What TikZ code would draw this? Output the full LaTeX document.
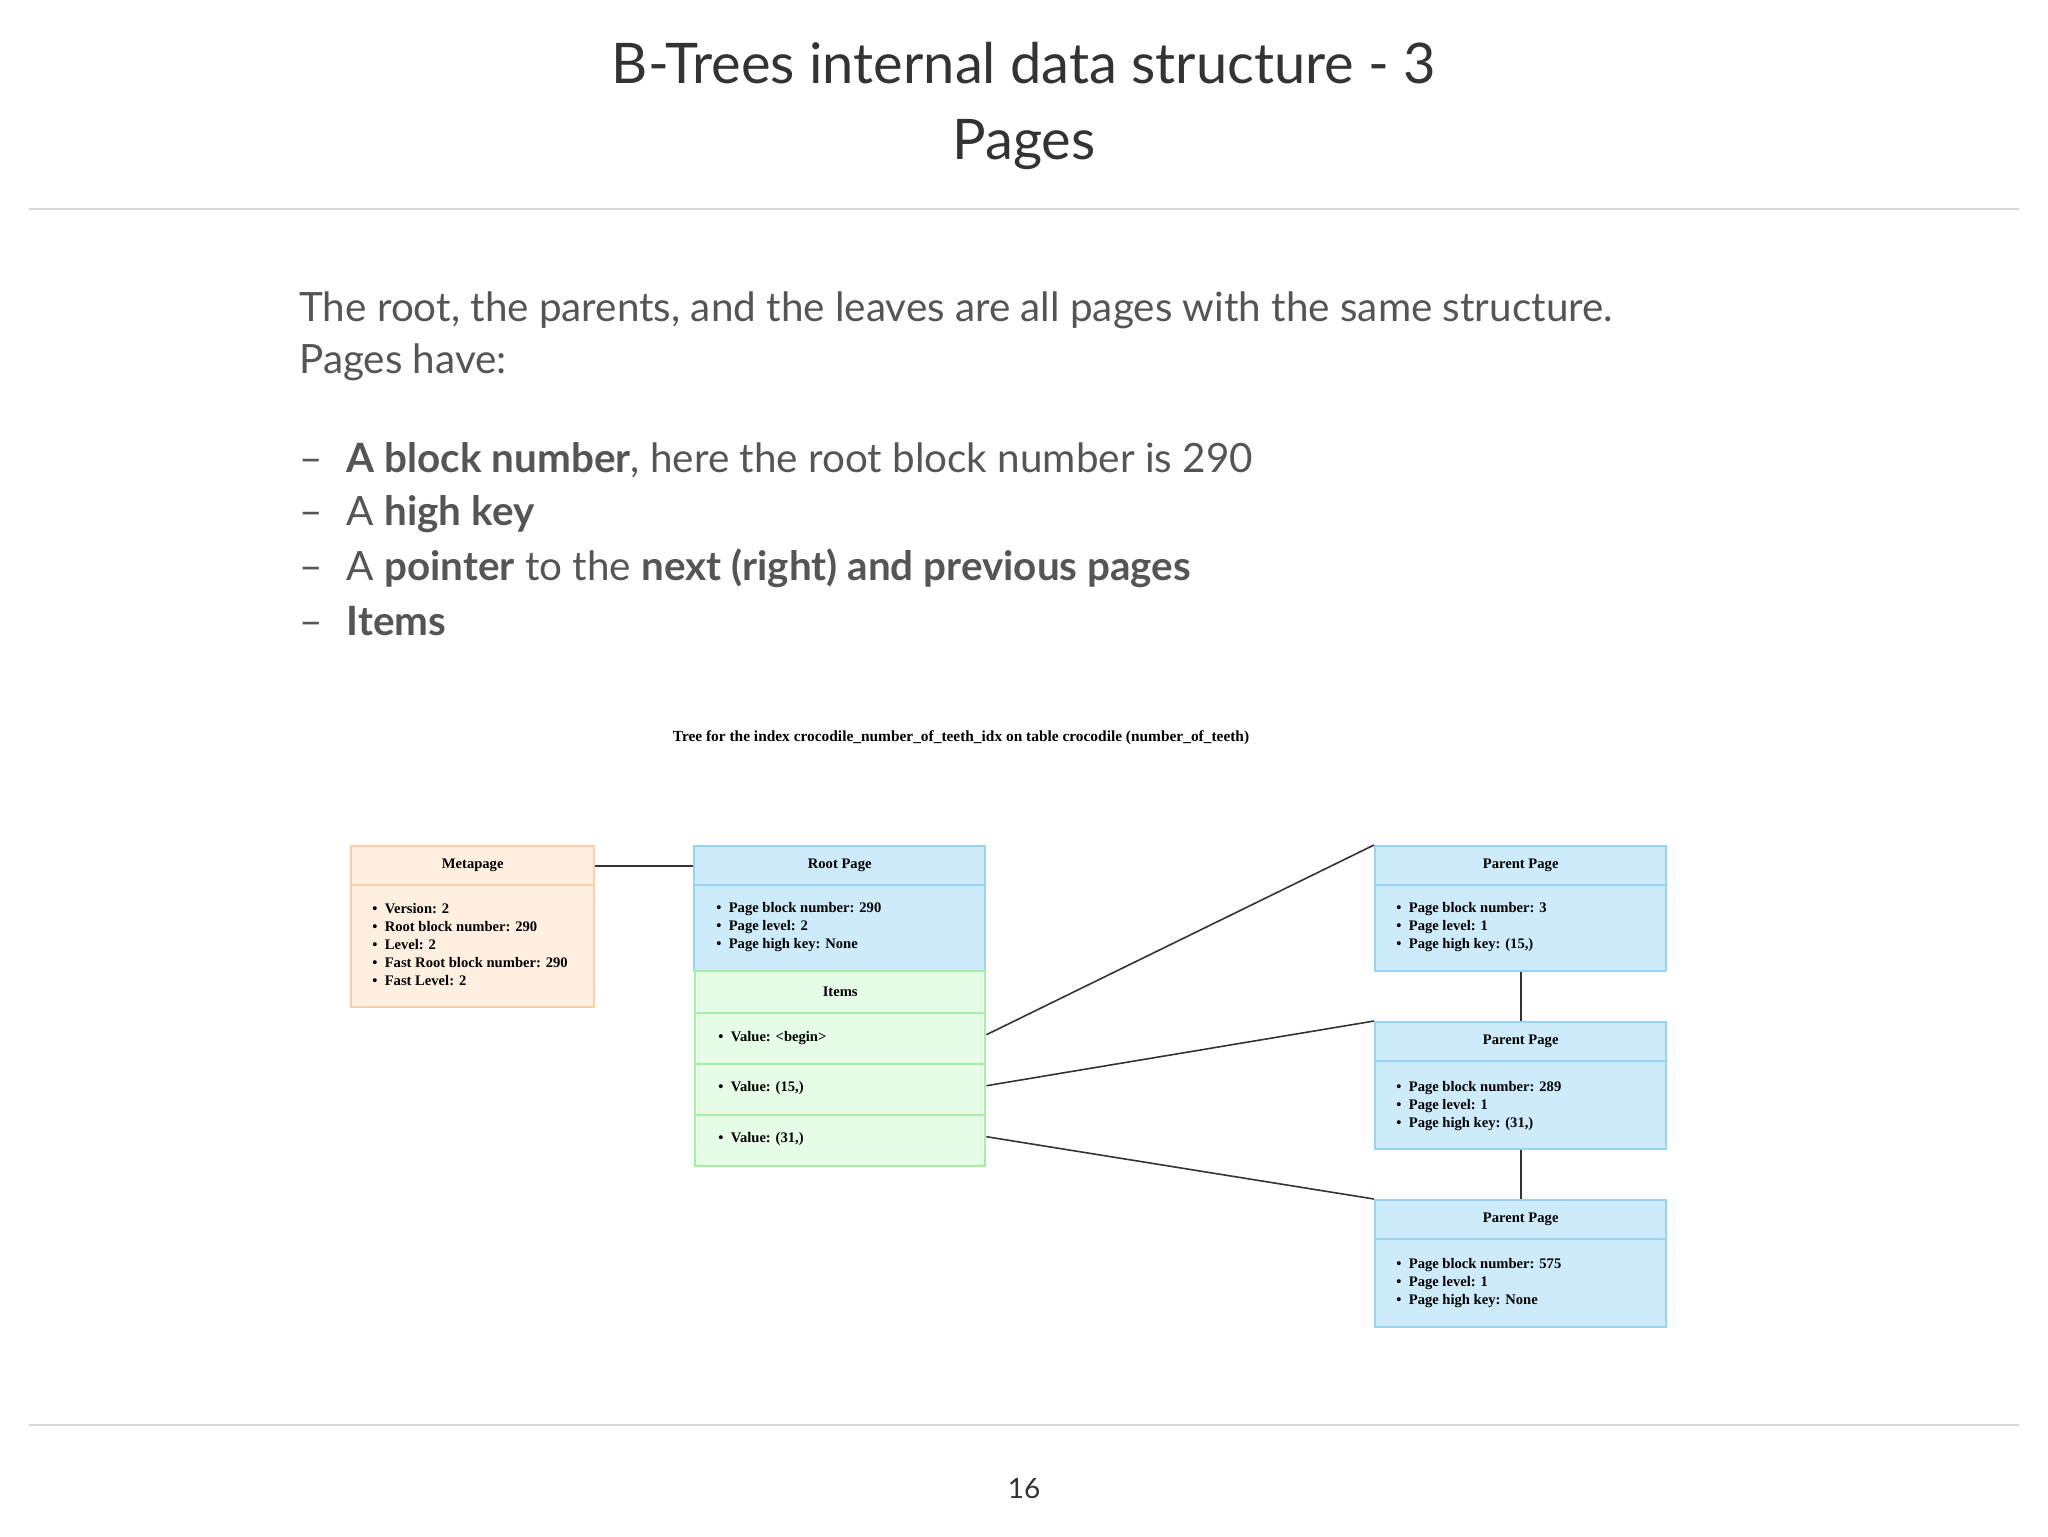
\documentclass[tikz,border=0pt]{standalone}
\usepackage{fontspec}
\setmainfont{Lato}
\newfontfamily\dfont{Liberation Serif}
\definecolor{slidegray}{HTML}{333333}
\definecolor{bodygray}{HTML}{555555}
\definecolor{rulegray}{HTML}{D6D6D6}
\definecolor{orfill}{HTML}{FFEFE1}
\definecolor{ordraw}{HTML}{F8CFA6}
\definecolor{blfill}{HTML}{CDEBFB}
\definecolor{bldraw}{HTML}{98D3F5}
\definecolor{grfill}{HTML}{E6FCE6}
\definecolor{grdraw}{HTML}{A6EEA6}
\begin{document}
\begin{tikzpicture}[x=0.5pt,y=-0.5pt,
  box/.style={rectangle,anchor=north west,inner sep=0pt,line width=1.2pt,minimum width=#1,font={\dfont\bfseries\fontsize{7.3}{9}\selectfont},text=black},
  orbox/.style={box=121.5pt,fill=orfill,draw=ordraw},
  blbox/.style={box=145.5pt,fill=blfill,draw=bldraw},
  grbox/.style={box=145pt,fill=grfill,draw=grdraw},
  lst/.style={anchor=west,align=left,inner sep=0pt,font={\dfont\bfseries\fontsize{7.3}{9}\selectfont}},
  conn/.style={draw=black!80,line width=0.8pt},
  bodytxt/.style={anchor=west,inner sep=0pt,text=bodygray,font=\fontsize{20.2}{26}\selectfont}]
\useasboundingbox (0,0) rectangle (2048,1536);
\fill[white] (0,0) rectangle (2048,1536);
% title
\node[text=slidegray,font=\fontsize{28}{38}\selectfont,align=center] (title) at (1024,106) {B-Trees internal data structure - 3\\Pages};
\draw[rulegray,line width=1.2pt] (29,209) -- (2019,209);
\draw[rulegray,line width=1.2pt] (29,1425) -- (2019,1425);
\node[text=slidegray,font=\fontsize{14}{16}\selectfont] (pnum) at (1024,1489) {16};
% body text
\node[bodytxt] (l1) at (299,310) {The root, the parents, and the leaves are all pages with the same structure.};
\node[bodytxt] (l2) at (299,362) {Pages have:};
\node[bodytxt] (d1) at (299,460) {--\hspace{12pt}\textbf{A block number}, here the root block number is 290};
\node[bodytxt] (d2) at (299,514) {--\hspace{12pt}A \textbf{high key}};
\node[bodytxt] (d3) at (299,568) {--\hspace{12pt}A \textbf{pointer} to the \textbf{next (right) and previous pages}};
\node[bodytxt] (d4) at (299,621) {--\hspace{12pt}\textbf{Items}};
% diagram
\node[font={\dfont\bfseries\fontsize{7.7}{9}\selectfont}] (dt) at (961,738) {Tree for the index crocodile\_number\_of\_teeth\_idx on table crocodile (number\_of\_teeth)};
% metapage
\node[orbox,minimum height=19.5pt] (mh) at (350,845) {Metapage};
\node[orbox,minimum height=61pt] (mb) at (350,884) {};
\node[lst] (ml) at (372,945) {\textbullet\ \ Version: 2\\\textbullet\ \ Root block number: 290\\\textbullet\ \ Level: 2\\\textbullet\ \ Fast Root block number: 290\\\textbullet\ \ Fast Level: 2};
% root
\node[blbox,minimum height=19.5pt] (rh) at (693,845) {Root Page};
\node[blbox,minimum height=43pt] (rb) at (693,884) {};
\node[lst] (rl) at (716,927) {\textbullet\ \ Page block number: 290\\\textbullet\ \ Page level: 2\\\textbullet\ \ Page high key: None};
\node[grbox,minimum height=21pt] (ih) at (694,970) {Items};
\node[grbox,minimum height=25.5pt] (r1) at (694,1012) {};
\node[grbox,minimum height=25.5pt] (r2) at (694,1063) {};
\node[grbox,minimum height=25.5pt] (r3) at (694,1114) {};
\node[lst] (v1) at (718,1038) {\textbullet\ \ Value: <begin>};
\node[lst] (v2) at (718,1088) {\textbullet\ \ Value: (15,)};
\node[lst] (v3) at (718,1139) {\textbullet\ \ Value: (31,)};
% parents
\node[blbox,minimum height=19.5pt] (p1) at (1374,845) {Parent Page};
\node[blbox,minimum height=43pt] (p1b) at (1374,884) {};
\node[lst] (p1l) at (1396,927) {\textbullet\ \ Page block number: 3\\\textbullet\ \ Page level: 1\\\textbullet\ \ Page high key: (15,)};
\node[blbox,minimum height=19.5pt] (p2) at (1374,1021) {Parent Page};
\node[blbox,minimum height=44pt] (p2b) at (1374,1060) {};
\node[lst] (p2l) at (1396,1106) {\textbullet\ \ Page block number: 289\\\textbullet\ \ Page level: 1\\\textbullet\ \ Page high key: (31,)};
\node[blbox,minimum height=19.5pt] (p3) at (1374,1199) {Parent Page};
\node[blbox,minimum height=44pt] (p3b) at (1374,1238) {};
\node[lst] (p3l) at (1396,1283) {\textbullet\ \ Page block number: 575\\\textbullet\ \ Page level: 1\\\textbullet\ \ Page high key: None};
% connectors
\draw[conn] (mh.east) -- (rh.west);
\draw[conn] ([yshift=2pt]r1.east) -- (p1.north west);
\draw[conn] ([yshift=2pt]r2.east) -- (p2.north west);
\draw[conn] ([yshift=2pt]r3.east) -- (p3.north west);
\draw[conn] (p1b.south) -- (p2.north);
\draw[conn] (p2b.south) -- (p3.north);
\end{tikzpicture}
\end{document}
